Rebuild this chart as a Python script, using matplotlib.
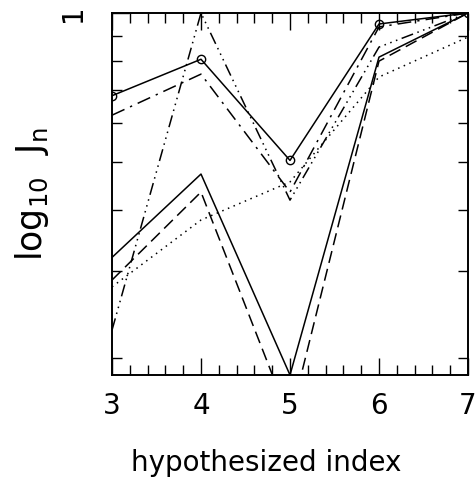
import matplotlib

matplotlib.use("Agg")
import matplotlib.pyplot as plt
from matplotlib.ticker import FixedLocator, NullFormatter, MultipleLocator

# hypothesized index vs J_n (log axis)
index = [3, 4, 5, 6, 7]
j_circle = [0.680, 0.806, 0.503, 0.950, 1.000]
j_dashdot = [0.621, 0.752, 0.434, 0.937, 1.000]
j_dash3dot = [0.228, 1.000, 0.418, 0.853, 1.000]
j_solid = [0.320, 0.472, 0.185, 0.814, 1.000]
j_dashed = [0.288, 0.434, 0.150, 0.799, 1.000]
j_dotted = [0.279, 0.381, 0.455, 0.742, 0.894]

plt.rcParams["font.family"] = "DejaVu Sans"

fig = plt.figure(figsize=(4.77, 4.90), dpi=100)
ax = fig.add_axes([0.2348, 0.2347, 0.7463, 0.7388])

lw = 1.1
ax.plot(index, j_circle, color="black", lw=lw, marker="o", ms=6,
        mfc="none", mec="black", mew=1.0)
ax.plot(index, j_dashdot, color="black", lw=lw, ls=(0, (9, 4, 1.5, 4)))
ax.plot(index, j_dash3dot, color="black", lw=lw,
        ls=(0, (8, 3, 1, 3, 1, 3, 1, 3)))
ax.plot(index, j_solid, color="black", lw=lw)
ax.plot(index, j_dashed, color="black", lw=lw, ls=(0, (8, 4)))
ax.plot(index, j_dotted, color="black", lw=lw, ls=(0, (1, 3)))

ax.set_yscale("log")
ax.set_ylim(0.185, 1.0)
ax.set_xlim(3, 7)

ax.xaxis.set_major_locator(MultipleLocator(1))
ax.xaxis.set_minor_locator(MultipleLocator(0.2))
ax.yaxis.set_major_locator(FixedLocator([1.0]))
ax.yaxis.set_minor_locator(FixedLocator([0.2, 0.3, 0.4, 0.5, 0.6, 0.7, 0.8, 0.9]))
ax.yaxis.set_minor_formatter(NullFormatter())
ax.set_yticklabels(["1"], rotation=90, va="center")

ax.tick_params(which="both", direction="in", top=True, right=True,
               width=1.0, labelsize=20)
ax.tick_params(which="major", length=12, pad=12)
ax.tick_params(which="minor", length=7)
ax.tick_params(axis="y", which="major", pad=18)
for sp in ax.spines.values():
    sp.set_linewidth(1.4)

ax.set_xlabel("hypothesized index", fontsize=20, va="center")
ax.xaxis.set_label_coords(0.433, -0.243)
ax.set_ylabel(r"$\mathregular{log_{10}\ \ J_n}$", fontsize=25, va="center")
ax.yaxis.set_label_coords(-0.225, 0.50)

fig.savefig("out.png", dpi=100)
